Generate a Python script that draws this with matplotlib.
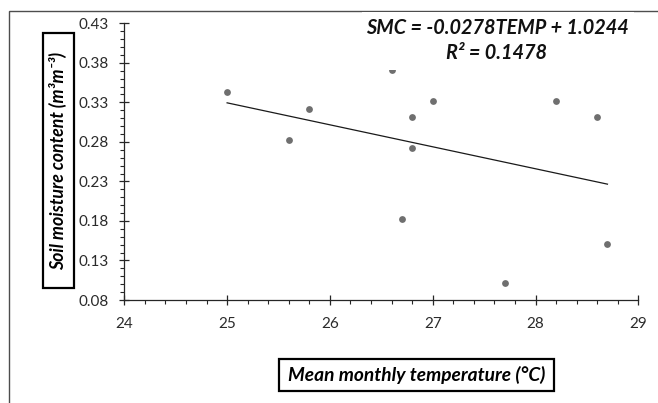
import matplotlib
matplotlib.use("Agg")
import matplotlib.pyplot as plt
from matplotlib.ticker import MultipleLocator, FormatStrFormatter
from matplotlib.patches import Rectangle
import numpy as np

plt.rcParams['font.family'] = ['Lato', 'DejaVu Sans']

# data
temp = [25.0, 25.6, 25.8, 26.6, 26.7, 26.8, 26.8, 27.0, 28.2, 28.6, 27.7, 28.7]
smc = [0.343, 0.282, 0.321, 0.371, 0.182, 0.312, 0.272, 0.332, 0.332, 0.312, 0.101, 0.151]
slope = -0.0278
intercept = 1.0244
r2 = 0.1478
x_ticks = [24, 25, 26, 27, 28, 29]
y_ticks = [0.08, 0.13, 0.18, 0.23, 0.28, 0.33, 0.38, 0.43]

W, H = 658, 403
fig = plt.figure(figsize=(W / 100, H / 100), dpi=100)
ax = fig.add_axes([124.3 / W, 1 - 300 / H, (638.3 - 124.3) / W, (300 - 23.3) / H])

ax.scatter(temp, smc, s=24, color='#6f6f6f', zorder=3, linewidths=0)
xs = np.array([min(temp), max(temp)])
ax.plot(xs, slope * xs + intercept, color='#1a1a1a', lw=0.9, zorder=2)

ax.set_xlim(24, 29)
ax.set_ylim(0.08, 0.43)
ax.set_xticks(x_ticks)
ax.set_yticks(y_ticks)
ax.yaxis.set_major_formatter(FormatStrFormatter('%.2f'))
ax.xaxis.set_minor_locator(MultipleLocator(0.2))
ax.yaxis.set_minor_locator(MultipleLocator(0.01))
for s in ['top', 'right']:
    ax.spines[s].set_visible(False)
for s in ['left', 'bottom']:
    ax.spines[s].set_color('#262626')
    ax.spines[s].set_linewidth(0.9)
ax.tick_params(which='major', direction='inout', length=7, width=0.9, color='#262626',
               labelsize=11, labelcolor='#2b2b2b')
ax.tick_params(axis='y', which='major', pad=8)
ax.tick_params(axis='x', which='major', pad=9)
ax.tick_params(which='minor', direction='out', length=3, width=0.8, color='#262626')

# equation label (white background box hides what lies beneath)
fig.patches.append(Rectangle((362 / W, 1 - 70 / H), (634 - 362) / W, (70 - 12) / H,
                             transform=fig.transFigure, facecolor='white', edgecolor='none',
                             zorder=4))
fig.text(497 / W, 1 - 28 / H, 'SMC = -0.0278TEMP + 1.0244', ha='center', va='center',
         fontsize=14.3, fontweight='bold', style='italic', color='#111111', zorder=5)
fig.text(497 / W, 1 - 53 / H, f'R² = {r2}', ha='center', va='center',
         fontsize=14.3, fontweight='bold', style='italic', color='#111111', zorder=5)

# y label box
fig.patches.append(Rectangle((42.7 / W, 1 - 288 / H), (74 - 42.7) / W, (288 - 33) / H,
                             transform=fig.transFigure, fill=False, edgecolor='black', lw=1.6))
fig.text(58.3 / W, 1 - 160.5 / H, 'Soil moisture content (m³m⁻³)', rotation=90,
         ha='center', va='center', fontsize=12.8, fontweight='bold', style='italic')

# x label box
fig.patches.append(Rectangle((278.7 / W, 1 - 390.7 / H), (554 - 278.7) / W, (390.7 - 359) / H,
                             transform=fig.transFigure, fill=False, edgecolor='black', lw=1.6))
fig.text(416.3 / W, 1 - 375 / H, 'Mean monthly temperature (°C)',
         ha='center', va='center', fontsize=13.8, fontweight='bold', style='italic')

# outer chart border
fig.patches.append(Rectangle((9.3 / W, -0.1), 1.2, 1 - 10.7 / H + 0.1,
                             transform=fig.transFigure, fill=False, edgecolor='#4d4d4d', lw=1.0))

fig.savefig('out.png', dpi=100)
